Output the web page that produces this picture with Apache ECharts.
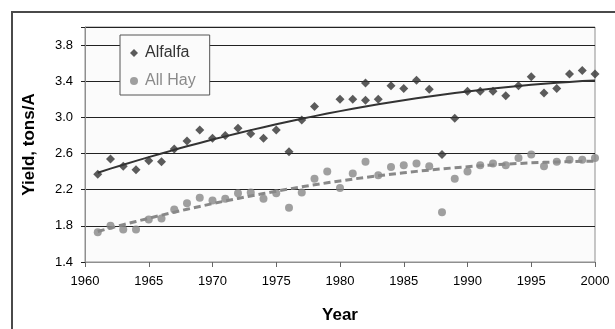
<!DOCTYPE html>
<html>
<head>
<meta charset="utf-8">
<script src="https://cdn.jsdelivr.net/npm/echarts@6/dist/echarts.min.js"></script>
<style>
  html, body { margin: 0; padding: 0; background: #ffffff; }
  #chart { width: 615px; height: 329px; }
</style>
</head>
<body>
<div id="chart"></div>
<script>
// Alfalfa yield by year (tons per acre)
const alfalfaYears = [1961, 1962, 1963, 1964, 1965, 1966, 1967, 1968, 1969, 1970,
  1971, 1972, 1973, 1974, 1975, 1976, 1977, 1978, 1980, 1981,
  1982, 1982, 1983, 1984, 1985, 1986, 1987, 1988, 1989, 1990,
  1991, 1992, 1993, 1994, 1995, 1996, 1997, 1998, 1999, 2000];
const alfalfaYield = [2.37, 2.54, 2.46, 2.42, 2.52, 2.51, 2.65, 2.74, 2.86, 2.77,
  2.80, 2.88, 2.82, 2.77, 2.86, 2.62, 2.97, 3.12, 3.20, 3.20,
  3.38, 3.19, 3.20, 3.35, 3.32, 3.41, 3.31, 2.59, 2.99, 3.29,
  3.29, 3.29, 3.24, 3.35, 3.45, 3.27, 3.32, 3.48, 3.52, 3.48];

// All hay yield by year (tons per acre)
const hayYears = [1961, 1962, 1963, 1964, 1965, 1966, 1967, 1968, 1969, 1970,
  1971, 1972, 1973, 1974, 1975, 1976, 1977, 1978, 1979, 1980,
  1981, 1982, 1983, 1984, 1985, 1986, 1987, 1988, 1989, 1990,
  1991, 1992, 1993, 1994, 1995, 1996, 1997, 1998, 1999, 2000];
const hayYield = [1.73, 1.80, 1.76, 1.76, 1.87, 1.88, 1.98, 2.05, 2.11, 2.08,
  2.10, 2.16, 2.17, 2.10, 2.16, 2.00, 2.17, 2.32, 2.40, 2.22,
  2.38, 2.51, 2.36, 2.45, 2.47, 2.49, 2.46, 1.95, 2.32, 2.40,
  2.47, 2.49, 2.47, 2.55, 2.59, 2.46, 2.51, 2.53, 2.53, 2.55];

const seriesNames = ['Alfalfa', 'All Hay'];
const xAxisTitle = 'Year';
const yAxisTitle = 'Yield, tons/A';

// Second-order polynomial trend (least squares), evaluated at the data years
function quadraticTrend(xs, ys, evalXs) {
  const x0 = 1980;
  let s = [0, 0, 0, 0, 0], t = [0, 0, 0];
  for (let i = 0; i < xs.length; i++) {
    const u = xs[i] - x0;
    let p = 1;
    for (let k = 0; k < 5; k++) { s[k] += p; p *= u; }
    t[0] += ys[i]; t[1] += ys[i] * u; t[2] += ys[i] * u * u;
  }
  const m = [[s[0], s[1], s[2], t[0]], [s[1], s[2], s[3], t[1]], [s[2], s[3], s[4], t[2]]];
  for (let c = 0; c < 3; c++) {
    for (let r = c + 1; r < 3; r++) {
      const f = m[r][c] / m[c][c];
      for (let k = c; k < 4; k++) m[r][k] -= f * m[c][k];
    }
  }
  const b = [0, 0, 0];
  for (let r = 2; r >= 0; r--) {
    let v = m[r][3];
    for (let k = r + 1; k < 3; k++) v -= m[r][k] * b[k];
    b[r] = v / m[r][r];
  }
  return evalXs.map(x => { const u = x - x0; return [x, b[0] + b[1] * u + b[2] * u * u]; });
}

const pair = (xs, ys) => xs.map((x, i) => [x, ys[i]]);
const alfalfaTrend = quadraticTrend(alfalfaYears, alfalfaYield, hayYears);
const hayTrend = quadraticTrend(hayYears, hayYield, hayYears);

const FONT = '"Liberation Sans", Arial, sans-serif';
const chart = echarts.init(document.getElementById('chart'), null, { renderer: 'canvas' });

chart.setOption({
  backgroundColor: '#ffffff',
  animation: false,
  textStyle: { fontFamily: FONT },
  graphic: [{
    type: 'rect',
    shape: { x: 12, y: 12, width: 640, height: 360 },
    style: { fill: 'none', stroke: '#4a4a4a', lineWidth: 2 },
    silent: true, z: -10
  }],
  grid: {
    left: 85, right: 20, top: 27, bottom: 67,
    show: true, backgroundColor: '#fbfbfb', borderColor: '#8f8f8f', borderWidth: 1
  },
  legend: {
    orient: 'vertical',
    left: 120, top: 35,
    padding: [10, 14, 6, 10],
    itemGap: 12,
    itemWidth: 8, itemHeight: 8,
    backgroundColor: '#fbfbfb',
    borderColor: '#555555', borderWidth: 1,
    textStyle: { fontFamily: FONT, fontSize: 16, padding: [0, 0, 0, 2] },
    data: [
      { name: seriesNames[0], textStyle: { color: '#333333' } },
      { name: seriesNames[1], textStyle: { color: '#8a8a8a' } }
    ]
  },
  xAxis: {
    type: 'value',
    min: 1960, max: 2000, interval: 5,
    name: xAxisTitle,
    nameLocation: 'middle', nameGap: 45,
    nameTextStyle: { fontFamily: FONT, fontSize: 17, fontWeight: 'bold', color: '#000' },
    axisLine: { show: true, lineStyle: { color: '#8f8f8f', width: 1 } },
    axisTick: { show: true, length: 5, lineStyle: { color: '#666' } },
    axisLabel: {
      fontFamily: FONT, fontSize: 13, color: '#000', margin: 13,
      formatter: v => String(v)
    },
    splitLine: { show: false }
  },
  yAxis: {
    type: 'value',
    min: 1.4, max: 4.0, interval: 0.4,
    name: yAxisTitle,
    nameLocation: 'middle', nameGap: 47,
    nameTextStyle: { fontFamily: FONT, fontSize: 17, fontWeight: 'bold', color: '#000' },
    axisLine: { show: true, lineStyle: { color: '#8f8f8f', width: 1 } },
    axisTick: { show: true, length: 4, lineStyle: { color: '#222' } },
    axisLabel: {
      fontFamily: FONT, fontSize: 13, color: '#000', margin: 12,
      formatter: v => (v > 3.9 ? '' : v.toFixed(1))
    },
    splitLine: { show: true, lineStyle: { color: '#222222', width: 1 } }
  },
  series: [
    {
      name: seriesNames[0], type: 'scatter',
      symbol: 'diamond', symbolSize: 9,
      itemStyle: { color: '#333333' },
      data: pair(alfalfaYears, alfalfaYield), z: 3
    },
    {
      name: seriesNames[1], type: 'scatter',
      symbol: 'circle', symbolSize: 8,
      itemStyle: { color: '#888888' },
      data: pair(hayYears, hayYield), z: 3
    },
    {
      name: 'Alfalfa trend', type: 'line',
      showSymbol: false, symbol: 'none',
      lineStyle: { color: '#333333', width: 2 },
      data: alfalfaTrend, z: 4
    },
    {
      name: 'All Hay trend', type: 'line',
      showSymbol: false, symbol: 'none',
      lineStyle: { color: '#888888', width: 3, type: [7, 4] },
      data: hayTrend, z: 4
    }
  ]
});
</script>
</body>
</html>
